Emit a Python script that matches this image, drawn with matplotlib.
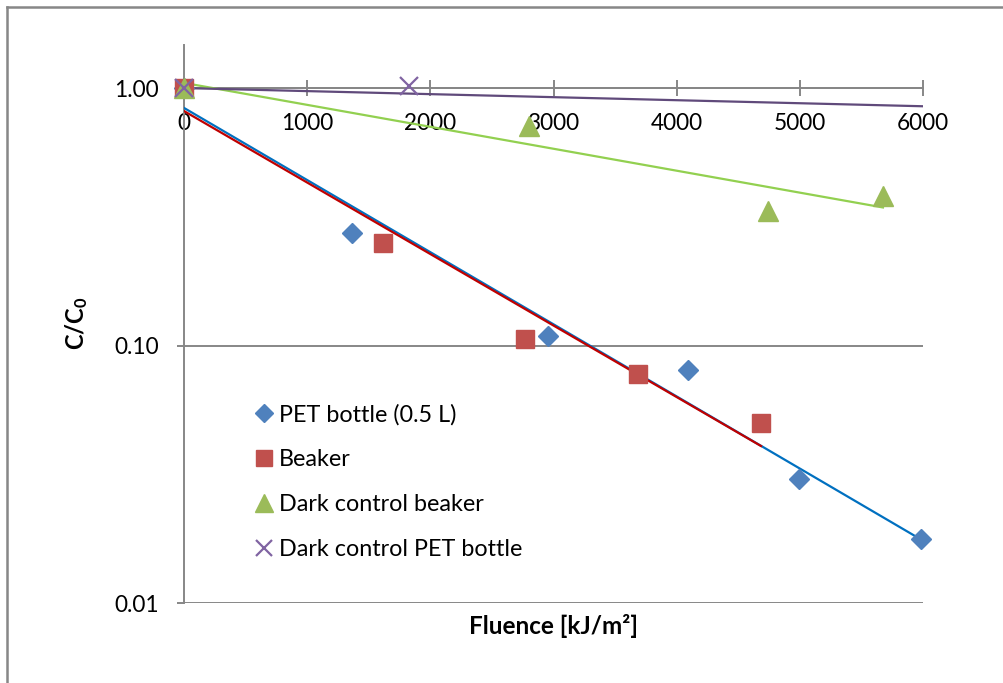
import numpy as np
import matplotlib
matplotlib.use("Agg")
import matplotlib.pyplot as plt
from matplotlib.lines import Line2D
from matplotlib.ticker import FixedLocator, FormatStrFormatter, NullLocator

plt.rcParams['font.family'] = ['Lato', 'DejaVu Sans']
plt.rcParams['mathtext.fontset'] = 'custom'
plt.rcParams['mathtext.rm'] = 'Lato'
plt.rcParams['mathtext.bf'] = 'Lato:bold'

# data
pet_x = [0, 1364, 2955, 4092, 4993, 5984]
pet_y = [1.0, 0.273, 0.109, 0.080, 0.0303, 0.0177]
beaker_x = [0, 1616, 2769, 3686, 4685]
beaker_y = [1.0, 0.250, 0.106, 0.0775, 0.050]
dark_beaker_x = [0, 2801, 4742, 5675]
dark_beaker_y = [1.0, 0.71, 0.333, 0.38]
dark_pet_x = [0, 1827]
dark_pet_y = [1.0, 1.02]
# exponential trend of dark control PET bottle as drawn (a, b, x range)
dark_pet_trend = [1.0, -2.71e-5, 0, 6000]

labels = ['PET bottle (0.5 L)', 'Beaker', 'Dark control beaker', 'Dark control PET bottle']
xticks = [0, 1000, 2000, 3000, 4000, 5000, 6000]
yticks = [0.01, 0.1, 1.0]


def exp_fit(x, y):
    # same as excel exponential trendline: linear fit on ln(y)
    b, lna = np.polyfit(np.asarray(x, float), np.log(y), 1)
    return np.exp(lna), b


def main():
    fig = plt.figure(figsize=(10.04, 6.83), dpi=100)
    ax = fig.add_axes([184 / 1004, 1 - 603 / 683, (923 - 184) / 1004, (603 - 45) / 683])

    ax.set_yscale('log')
    ax.set_xlim(0, 6000)
    ax.set_ylim(0.01, 1.47)

    grey = '#878787'
    ax.yaxis.set_major_locator(FixedLocator(yticks))
    ax.yaxis.set_minor_locator(NullLocator())
    ax.yaxis.set_major_formatter(FormatStrFormatter('%.2f'))
    ax.grid(axis='y', color=grey, lw=1.4)
    ax.set_axisbelow(True)

    ax.xaxis.set_major_locator(FixedLocator(xticks))
    ax.spines['bottom'].set_position(('data', 1.0))
    for s in ['top', 'right']:
        ax.spines[s].set_visible(False)
    for s in ['bottom', 'left']:
        ax.spines[s].set_color(grey)
        ax.spines[s].set_linewidth(1.4)
    ax.tick_params(axis='x', direction='inout', length=12, width=1.4, color=grey,
                   labelsize=16.3, pad=12)
    ax.tick_params(axis='y', direction='out', length=5, width=1.4, color=grey,
                   labelsize=16.3, pad=13)

    # trendlines
    xs = np.linspace(0, max(pet_x), 200)
    a, b = exp_fit(pet_x, pet_y)
    ax.plot(xs, a * np.exp(b * xs), color='#0070C0', lw=1.6, zorder=3)
    xs = np.linspace(0, max(beaker_x), 200)
    a, b = exp_fit(beaker_x, beaker_y)
    ax.plot(xs, a * np.exp(b * xs), color='#C00000', lw=1.6, zorder=3)
    xs = np.linspace(0, max(dark_beaker_x), 200)
    a, b = exp_fit(dark_beaker_x, dark_beaker_y)
    ax.plot(xs, a * np.exp(b * xs), color='#92D050', lw=1.6, zorder=3)
    a, b, x0, x1 = dark_pet_trend
    xs = np.linspace(x0, x1, 200)
    ax.plot(xs, a * np.exp(b * xs), color='#604A7B', lw=1.6, zorder=3)

    # markers
    ax.plot(pet_x, pet_y, 'D', color='#4F81BD', ms=10, mec='#4F81BD', ls='none',
            clip_on=False, zorder=4, label=labels[0])
    ax.plot(beaker_x, beaker_y, 's', color='#C0504D', ms=13, mec='#C0504D', ls='none',
            clip_on=False, zorder=4, label=labels[1])
    ax.plot(dark_beaker_x, dark_beaker_y, '^', color='#9BBB59', ms=14, mec='#9BBB59', ls='none',
            clip_on=False, zorder=5, label=labels[2])
    ax.plot(dark_pet_x, dark_pet_y, 'x', color='#8064A2', ms=13, mew=1.6, ls='none',
            clip_on=False, zorder=6, label=labels[3])

    ax.legend(loc='upper left', bbox_to_anchor=(243 / 1004, 1 - 392 / 683),
              bbox_transform=fig.transFigure, frameon=False, fontsize=16.8,
              handlelength=0.8, handletextpad=0.25, labelspacing=1.03,
              borderpad=0, markerscale=0.88)

    ax.set_xlabel('Fluence [kJ/m²]', fontsize=17.5, fontweight='bold')
    ax.xaxis.set_label_coords(554 / 1004, 1 - 626 / 683, transform=fig.transFigure)
    ax.xaxis.label.set_va('center')
    ax.set_ylabel(r'$\mathbf{C/C_0}$', fontsize=17)
    ax.yaxis.set_label_coords(77 / 1004, 1 - 323 / 683, transform=fig.transFigure)
    ax.yaxis.label.set_va('center')

    # chart area border (only top and left visible)
    fig.add_artist(Line2D([7.5 / 1004, 1], [1 - 6.5 / 683, 1 - 6.5 / 683], color=grey, lw=1.8,
                          transform=fig.transFigure))
    fig.add_artist(Line2D([7.5 / 1004, 7.5 / 1004], [0, 1 - 6.5 / 683], color=grey, lw=1.8,
                          transform=fig.transFigure))

    fig.savefig('out.png', dpi=100)


if __name__ == "__main__":
    main()
